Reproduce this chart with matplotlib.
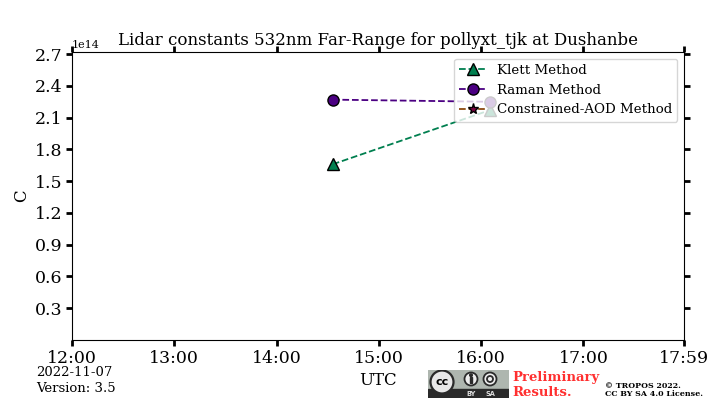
import datetime
import matplotlib
matplotlib.use('Agg')
import matplotlib.pyplot as plt
import matplotlib.dates as mdates
from matplotlib.patches import Circle, Rectangle

day = datetime.datetime(2022, 11, 7)

times = [day + datetime.timedelta(hours=14, minutes=33), day + datetime.timedelta(hours=16, minutes=5)]
klett_vals = [1.66e14, 2.17e14]
raman_vals = [2.27e14, 2.25e14]
aod_times = []
aod_vals = []

y_ticks = [0.3e14, 0.6e14, 0.9e14, 1.2e14, 1.5e14, 1.8e14, 2.1e14, 2.4e14, 2.7e14]
x_ticks = [day + datetime.timedelta(hours=h) for h in (12, 13, 14, 15, 16, 17)]
x_ticks.append(day + datetime.timedelta(hours=17, minutes=59))

plt.rcParams['font.family'] = 'DejaVu Serif'

fig = plt.figure(figsize=(7.2, 4.0), dpi=100)
ax = fig.add_axes([72 / 720, 1 - 340 / 400, 612 / 720, 288 / 400])

ax.plot(times, klett_vals, color='#007F4F', ls='--', lw=1.3, marker='^', ms=8,
        mfc='#007F4F', mec='black', label='Klett Method')
ax.plot(times, raman_vals, color='#4B0082', ls='--', lw=1.3, marker='o', ms=8,
        mfc='#4B0082', mec='black', label='Raman Method')
ax.plot(aod_times, aod_vals, color='#8B4A10', ls='--', lw=1.3, marker='*', ms=8,
        mfc='#7A0040', mec='black', label='Constrained-AOD Method')

ax.set_xlim(day + datetime.timedelta(hours=12), day + datetime.timedelta(hours=17, minutes=59))
ax.set_ylim(0, 2.72e14)
ax.set_xticks(x_ticks)
ax.xaxis.set_major_formatter(mdates.DateFormatter('%H:%M'))
ax.set_yticks(y_ticks)

ax.tick_params(axis='both', which='major', labelsize=12.5, width=2, length=4, pad=3,
               top=True, right=True)
ax.yaxis.get_offset_text().set_fontsize(8)
ax.set_xlabel('UTC', fontsize=12, labelpad=4)
ax.set_ylabel('C', fontsize=12, labelpad=3)
ax.set_title('Lidar constants 532nm Far-Range for pollyxt_tjk at Dushanbe', fontsize=12, pad=5)
ax.legend(loc='upper right', fontsize=9.6, borderaxespad=0.5, labelspacing=0.5)

fig.text(36 / 720, 1 - 372 / 400, '2022-11-07', fontsize=9.5, va='center')
fig.text(36 / 720, 1 - 388 / 400, 'Version: 3.5', fontsize=9.5, va='center')

fig.text(512 / 720, 1 - 377 / 400, 'Preliminary', color='#FF3030', fontsize=9.5,
         fontweight='bold', va='center')
fig.text(512 / 720, 1 - 392 / 400, 'Results.', color='#FF3030', fontsize=9.5,
         fontweight='bold', va='center')
fig.text(605 / 720, 1 - 385.5 / 400, '\u00a9 TROPOS 2022.', fontsize=5.65, fontweight='bold', va='center')
fig.text(605 / 720, 1 - 394.5 / 400, 'CC BY SA 4.0 License.', fontsize=5.65, fontweight='bold', va='center')

# cc badge, drawn in its own pixel sized axes
logo = fig.add_axes([428 / 720, 1 - 398 / 400, 81 / 720, 28 / 400])
logo.set_xlim(0, 81)
logo.set_ylim(28, 0)
logo.axis('off')
logo.add_patch(Rectangle((0, 0), 81, 28, color='#AEB6AF'))
logo.add_patch(Rectangle((0, 19), 81, 9, color='#2A2A2A'))
logo.add_patch(Circle((14, 12), 11.5, fc='#E8E8E8', ec='#2A2A2A', lw=1.6, zorder=3))
logo.text(14, 12.3, 'cc', fontsize=8, fontweight='bold', ha='center', va='center',
          family='DejaVu Sans', zorder=4)
logo.add_patch(Circle((43, 9), 6.5, fc='#EEEEEE', ec='#2A2A2A', lw=1.3, zorder=3))
logo.add_patch(Rectangle((41.6, 6.5), 2.8, 6.5, color='#2A2A2A', zorder=4))
logo.add_patch(Circle((43, 5.2), 1.3, color='#2A2A2A', zorder=4))
logo.add_patch(Circle((62, 9), 6.5, fc='#EEEEEE', ec='#2A2A2A', lw=1.3, zorder=3))
logo.add_patch(Circle((62, 9), 3, fc='#EEEEEE', ec='#2A2A2A', lw=1.3, zorder=4))
logo.text(43, 24, 'BY', color='#DDDDDD', fontsize=4.8, fontweight='bold', ha='center', va='center',
          family='DejaVu Sans')
logo.text(62, 24, 'SA', color='#DDDDDD', fontsize=4.8, fontweight='bold', ha='center', va='center',
          family='DejaVu Sans')

fig.savefig('out.png', dpi=100)
